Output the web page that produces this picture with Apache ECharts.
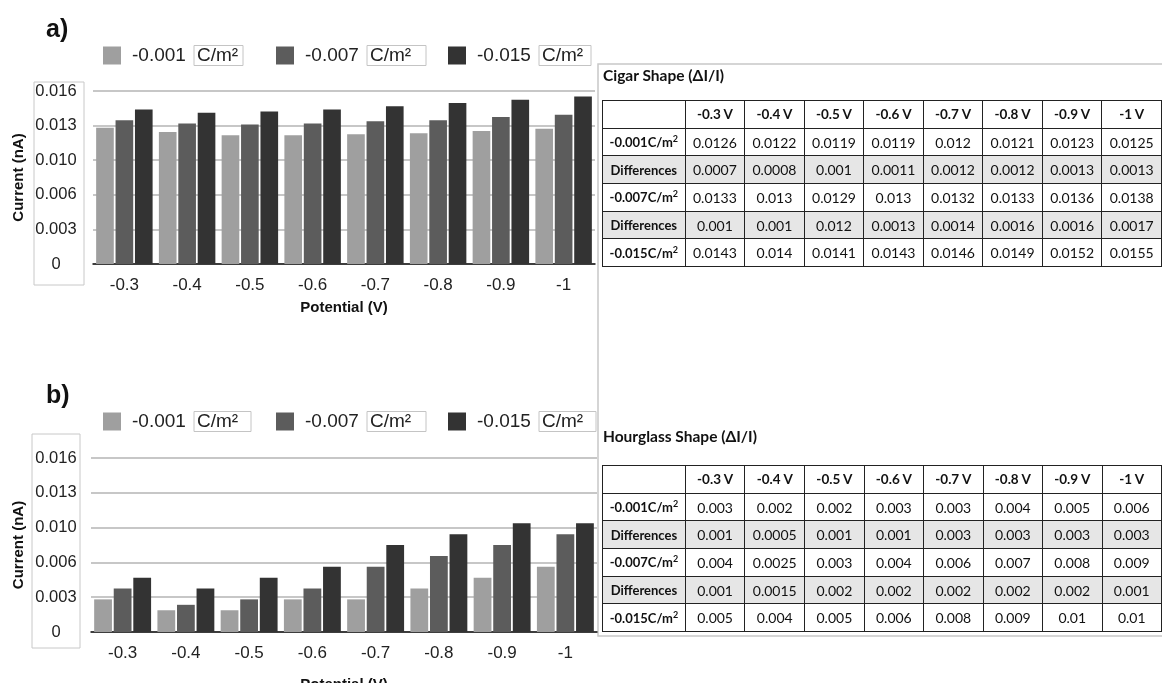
<!DOCTYPE html>
<html>
<head>
<meta charset="utf-8">
<script src="https://cdn.jsdelivr.net/npm/echarts@6/dist/echarts.min.js"></script>
<style>
  html, body { margin: 0; padding: 0; background: #fff; overflow: hidden; width: 1162px; height: 683px; }
  #chart { position: absolute; left: 0; top: 0; width: 1162px; height: 683px; }
  .tbl-title { position: absolute; left: 603px; font: bold 15.5px Lato, "Open Sans", sans-serif; color: #111; white-space: nowrap; }
  table.data { position: absolute; left: 602px; border-collapse: collapse; table-layout: fixed;
    font-family: Lato, "Open Sans", sans-serif; font-size: 14px; color: #111; }
  table.data td, table.data th { border: 1.5px solid #222; text-align: center; padding: 0; height: 26.7px; white-space: nowrap; }
  table.data th { font-weight: bold; font-size: 13.5px; }
  table.data td.rowhead { font-weight: bold; font-size: 13px; }
  table.data tr.diff td { background: #e6e6e6; }
  table.data sup { font-size: 9px; line-height: 0; vertical-align: 5px; }
</style>
</head>
<body>
<div id="chart"></div>
<div class="tbl-title" style="top:66px">Cigar Shape (ΔI/I)</div>
<table class="data" id="cigar" style="top:100px"></table>
<div class="tbl-title" style="top:427px">Hourglass Shape (ΔI/I)</div>
<table class="data" id="hourglass" style="top:465px"></table>
<script>
// Potentials (V) on the x axis and column headers
const potentials = ['-0.3', '-0.4', '-0.5', '-0.6', '-0.7', '-0.8', '-0.9', '-1'];
// Surface charge densities
const densities = ['-0.001', '-0.007', '-0.015'];

// Cigar shape current (nA)
const cigarLow  = [0.0126, 0.0122, 0.0119, 0.0119, 0.012, 0.0121, 0.0123, 0.0125];
const cigarMid  = [0.0133, 0.013, 0.0129, 0.013, 0.0132, 0.0133, 0.0136, 0.0138];
const cigarHigh = [0.0143, 0.014, 0.0141, 0.0143, 0.0146, 0.0149, 0.0152, 0.0155];
const cigarDiff1 = [0.0007, 0.0008, 0.001, 0.0011, 0.0012, 0.0012, 0.0013, 0.0013];
const cigarDiff2 = [0.001, 0.001, 0.012, 0.0013, 0.0014, 0.0016, 0.0016, 0.0017];

// Hourglass shape current (nA)
const hourLow  = [0.003, 0.002, 0.002, 0.003, 0.003, 0.004, 0.005, 0.006];
const hourMid  = [0.004, 0.0025, 0.003, 0.004, 0.006, 0.007, 0.008, 0.009];
const hourHigh = [0.005, 0.004, 0.005, 0.006, 0.008, 0.009, 0.01, 0.01];
const hourDiff1 = [0.001, 0.0005, 0.001, 0.001, 0.003, 0.003, 0.003, 0.003];
const hourDiff2 = [0.001, 0.0015, 0.002, 0.002, 0.002, 0.002, 0.002, 0.001];

const barColors = ['#9f9f9f', '#5c5c5c', '#333333'];
const seriesNames = densities.map(d => d + ' C/m²');

// ---------- tables ----------
function buildTable(id, low, d1, mid, d2, high) {
  const t = document.getElementById(id);
  let html = '<colgroup><col style="width:83.5px">' + potentials.map(() => '<col style="width:60.5px">').join('') + '</colgroup>';
  html += '<tr><th></th>' + potentials.map(p => '<th>' + p + ' V</th>').join('') + '</tr>';
  const rows = [
    ['-0.001C/m<sup>2</sup>', low, ''],
    ['Differences', d1, 'diff'],
    ['-0.007C/m<sup>2</sup>', mid, ''],
    ['Differences', d2, 'diff'],
    ['-0.015C/m<sup>2</sup>', high, '']
  ];
  rows.forEach(([label, vals, cls]) => {
    html += '<tr class="' + cls + '"><td class="rowhead">' + label + '</td>' +
      vals.map(v => '<td>' + String(v) + '</td>').join('') + '</tr>';
  });
  t.innerHTML = html;
}
buildTable('cigar', cigarLow, cigarDiff1, cigarMid, cigarDiff2, cigarHigh);
buildTable('hourglass', hourLow, hourDiff1, hourMid, hourDiff2, hourHigh);

// ---------- bar charts ----------
const chart = echarts.init(document.getElementById('chart'), null, { renderer: 'canvas' });
const font = '"Liberation Sans", Arial, sans-serif';

function yLabel(v) { return v === 0 ? '0' : v.toFixed(3); }

// one legend entry per series so each unit box can have its own width
const legendLefts = [103, 276, 448];
function legendItems(top, boxWidths) {
  return seriesNames.map((name, i) => ({
    top: top, left: legendLefts[i], padding: 0, icon: 'rect', itemWidth: 18, itemHeight: 18,
    selectedMode: false,
    data: [name],
    formatter: n => '{v|' + n.split(' ')[0] + '}{u|C/m²}',
    textStyle: {
      fontFamily: font, fontSize: 19, color: '#222',
      rich: {
        v: { fontFamily: font, fontSize: 19, color: '#222', width: 62, padding: [0, 0, 0, 6] },
        u: { fontFamily: font, fontSize: 19, color: '#222', lineHeight: 18, width: boxWidths[i] - 4,
             borderColor: '#c4c4c4', borderWidth: 1, padding: [1, 0, 0, 3] }
      }
    }
  }));
}

function xAxisCfg(gridIndex, labelMargin, nameGap) {
  return {
    type: 'category', gridIndex: gridIndex, data: potentials,
    axisTick: { show: false },
    axisLine: { lineStyle: { color: '#111', width: 1.5 } },
    axisLabel: { fontFamily: font, fontSize: 17, color: '#222', margin: labelMargin },
    name: 'Potential (V)', nameLocation: 'middle', nameGap: nameGap,
    nameTextStyle: { fontFamily: font, fontSize: 15, fontWeight: 'bold', color: '#111' }
  };
}

function yAxisCfg(gridIndex, labelMargin, nameGap) {
  return {
    type: 'value', gridIndex: gridIndex, min: 0, max: 0.016, interval: 0.0032,
    axisLine: { show: false }, axisTick: { show: false },
    splitLine: { lineStyle: { color: '#b4b4b4', width: 1.5 } },
    axisLabel: { fontFamily: font, fontSize: 16.5, color: '#222', align: 'center', margin: labelMargin, formatter: yLabel },
    name: 'Current (nA)', nameLocation: 'middle', nameRotate: 90, nameGap: nameGap,
    nameTextStyle: { fontFamily: font, fontSize: 15, fontWeight: 'bold', color: '#111' }
  };
}

function barSeries(idx, values, i) {
  return {
    type: 'bar', name: seriesNames[i], xAxisIndex: idx, yAxisIndex: idx, data: values,
    barGap: '10%', barCategoryGap: '10%',
    itemStyle: { color: barColors[i] },
    emphasis: { disabled: true }
  };
}

const option = {
  animation: false,
  backgroundColor: '#fff',
  textStyle: { fontFamily: font },
  legend: legendItems(45, [50, 60, 53]).concat(legendItems(411, [58, 60, 58])),
  grid: [
    { left: 93, right: 567, top: 91, bottom: 419, outerBoundsMode: 'none', containLabel: false },
    { left: 91, right: 565, top: 458, bottom: 51, outerBoundsMode: 'none', containLabel: false }
  ],
  xAxis: [xAxisCfg(0, 13, 36), xAxisCfg(1, 13, 45)],
  yAxis: [yAxisCfg(0, 37, 67), yAxisCfg(1, 35, 65)],
  series: [
    barSeries(0, cigarLow, 0), barSeries(0, cigarMid, 1), barSeries(0, cigarHigh, 2),
    barSeries(1, hourLow, 0), barSeries(1, hourMid, 1), barSeries(1, hourHigh, 2)
  ],
  graphic: [
    { type: 'text', left: 46, top: 18, style: { text: 'a)', font: 'bold 25px ' + font, fill: '#111' } },
    { type: 'text', left: 46, top: 384, style: { text: 'b)', font: 'bold 25px ' + font, fill: '#111' } },
    // frames around the value labels
    { type: 'rect', shape: { x: 34, y: 82, width: 50, height: 203 }, style: { fill: 'none', stroke: '#c8c8c8', lineWidth: 1 }, silent: true },
    { type: 'rect', shape: { x: 32, y: 434, width: 48, height: 214 }, style: { fill: 'none', stroke: '#c8c8c8', lineWidth: 1 }, silent: true },
    // frame of the table panel
    { type: 'polyline', shape: { points: [[1162, 64], [598, 64], [598, 636], [1162, 636]] }, style: { fill: 'none', stroke: '#c8c8c8', lineWidth: 1.5 }, silent: true }
  ]
};
chart.setOption(option);
</script>
</body>
</html>
